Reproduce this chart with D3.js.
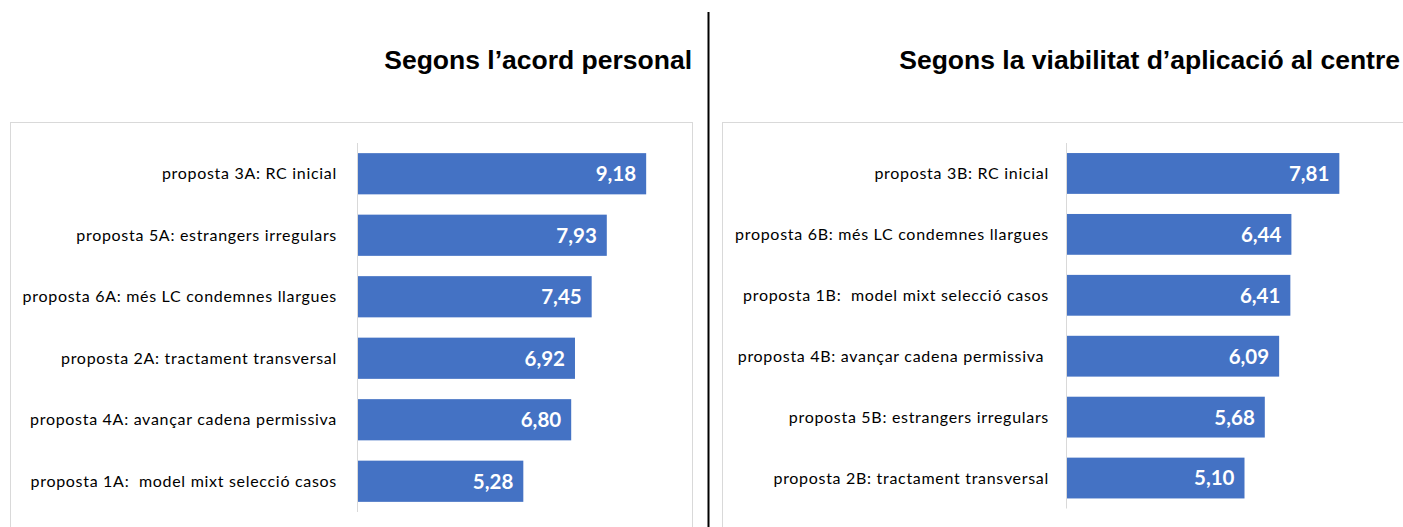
<!DOCTYPE html>
<html><head><meta charset="utf-8">
<script src="https://cdn.jsdelivr.net/npm/d3@7"></script>
<style>body{margin:0;background:#fff;} svg{display:block;}</style>
</head><body>
<svg id="c" width="1403" height="527"></svg>
<script>
const titleA = "Segons l\u2019acord personal";
const titleB = "Segons la viabilitat d\u2019aplicaci\u00f3 al centre";
const categoriesA = ["proposta 3A: RC inicial","proposta 5A: estrangers irregulars","proposta 6A: més LC condemnes llargues","proposta 2A: tractament transversal","proposta 4A: avançar cadena permissiva","proposta 1A:  model mixt selecció casos"];
const valuesA = [9.18, 7.93, 7.45, 6.92, 6.80, 5.28];
const categoriesB = ["proposta 3B: RC inicial","proposta 6B: més LC condemnes llargues","proposta 1B:  model mixt selecció casos","proposta 4B: avançar cadena permissiva ","proposta 5B: estrangers irregulars","proposta 2B: tractament transversal"];
const valuesB = [7.81, 6.44, 6.41, 6.09, 5.68, 5.10];
const fmt = v => v.toFixed(2).replace(".", ",");

const svg = d3.select("#c");
// divider
svg.append("line").attr("x1",708.5).attr("x2",708.5).attr("y1",12).attr("y2",527).attr("stroke","#000").attr("stroke-width",2);

function panel(cfg){
  const g = svg.append("g");
  g.append("rect").attr("x",cfg.fx+0.5).attr("y",122.5).attr("width",cfg.fw).attr("height",420)
    .attr("fill","#fff").attr("stroke","#d9d9d9").attr("stroke-width",1);
  g.append("text").attr("x",cfg.tx).attr("y",69).attr("text-anchor","end")
    .attr("font-family","Liberation Sans, Arial, sans-serif").attr("font-weight","bold").attr("font-size",26.5)
    .attr("fill","#000").text(cfg.title);
  const y = d3.scaleBand().domain(cfg.cats).range(cfg.yr).paddingInner(0.33).paddingOuter(0.165);
  const x = d3.scaleLinear().domain([0,cfg.max]).range([cfg.ax, cfg.ax+315]);
  g.append("line").attr("x1",cfg.ax+0.5).attr("x2",cfg.ax+0.5).attr("y1",cfg.yr[0]).attr("y2",cfg.yr[1]).attr("stroke","#d9d9d9");
  const data = cfg.cats.map((c,i)=>({c, v:cfg.vals[i]}));
  g.selectAll("rect.bar").data(data).join("rect").attr("class","bar")
    .attr("x",x(0)+1).attr("y",d=>y(d.c)).attr("height",y.bandwidth()).attr("width",d=>x(d.v)-x(0)-1)
    .attr("fill","#4472c4");
  g.selectAll("text.val").data(data).join("text").attr("class","val")
    .attr("x",d=>x(d.v)-10).attr("y",d=>y(d.c)+y.bandwidth()/2).attr("dy","0.36em").attr("text-anchor","end")
    .attr("font-family","Lato, sans-serif").attr("font-weight","bold").attr("font-size",20.5).attr("fill","#fff")
    .text(d=>fmt(d.v));
  g.selectAll("text.cat").data(data).join("text").attr("class","cat")
    .attr("x",cfg.ax-cfg.lgap).attr("y",d=>y(d.c)+y.bandwidth()/2).attr("dy","0.35em").attr("text-anchor","end")
    .attr("font-family","Lato, sans-serif").attr("font-size",16).attr("letter-spacing","0.7px").attr("fill","#000")
    .style("white-space","pre")
    .text(d=>d.c);
}
panel({fx:10, fw:682, tx:692, title:titleA, cats:categoriesA, vals:valuesA, yr:[143,512], ax:357, max:10, lgap:20});
panel({fx:722, fw:681, tx:1400, title:titleB, cats:categoriesB, vals:valuesB, yr:[143,508.5], ax:1066, max:9, lgap:17});
</script>
</body></html>
